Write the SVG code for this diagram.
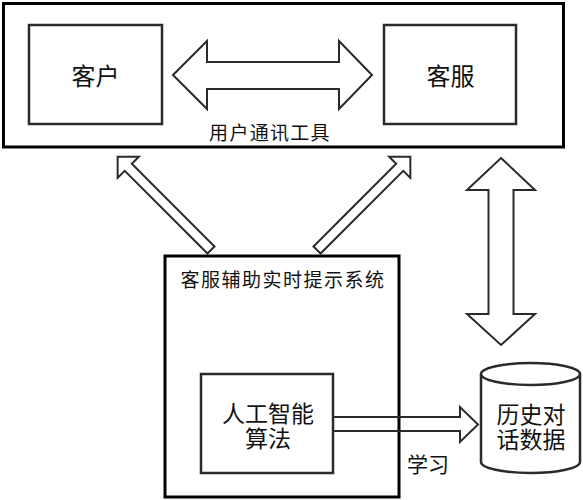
<svg xmlns="http://www.w3.org/2000/svg" width="583" height="500" viewBox="0 0 583 500">
<style>
.t{font-family:"Noto Sans CJK SC","Noto Sans",sans-serif;fill:#111;text-anchor:middle;dominant-baseline:central}
.box{fill:#fff;stroke:#2a2a2a;stroke-width:2.5}
.outer{fill:#fff;stroke:#000;stroke-width:3}
.arr{fill:#fff;stroke:#2a2a2a;stroke-width:2;stroke-linejoin:miter}
</style>
<rect width="583" height="500" fill="#fff"/>
<g id="tool">
<rect class="outer" x="3.5" y="3.5" width="560" height="143.5"/>
<text class="t" x="270" y="131" font-size="19" letter-spacing="1.3">用户通讯工具</text>
</g>
<g id="customer">
<rect class="box" x="29" y="25" width="133" height="99"/>
<text class="t" x="95.5" y="74" font-size="24">客户</text>
</g>
<g id="agent">
<rect class="box" x="384" y="25" width="132" height="99"/>
<text class="t" x="450.5" y="74" font-size="24">客服</text>
</g>
<g id="system">
<rect class="outer" x="165" y="256" width="234" height="241"/>
<text class="t" x="283" y="278" font-size="19" letter-spacing="1.5">客服辅助实时提示系统</text>
</g>
<g id="ai">
<rect class="box" x="201" y="374" width="132" height="99"/>
<text class="t" font-size="23"><tspan x="268" y="412">人工智能</tspan><tspan x="268" y="437">算法</tspan></text>
</g>
<g id="history">
<path class="box" d="M481,374 L481,462 A49.5,11 0 0 0 580,462 L580,374"/>
<ellipse class="box" cx="530.5" cy="374" rx="49.5" ry="11"/>
<text class="t" font-size="23"><tspan x="531" y="413">历史对</tspan><tspan x="531" y="437.5">话数据</tspan></text>
</g>
<g id="connectors">
<polygon class="arr" points="173,75 207,41 207,62 339,62 339,41 372,75 339,109 339,89 207,89 207,109"/>
<polygon class="arr" transform="translate(211,250) rotate(-135)" points="0,-5 117,-5 117,-15 132,0 117,15 117,5 0,5"/>
<polygon class="arr" transform="translate(317,250) rotate(-45)" points="0,-5 117,-5 117,-15 132,0 117,15 117,5 0,5"/>
<polygon class="arr" points="501,158 535,190 513.5,190 513.5,314 535,314 501,345 467,314 488.5,314 488.5,190 467,190"/>
<polygon class="arr" style="fill:none" points="333,417 460,417 460,407 478,424.5 460,442 460,431 333,431"/>
<text class="t" x="428" y="462.5" font-size="21">学习</text>
</g>
</svg>
